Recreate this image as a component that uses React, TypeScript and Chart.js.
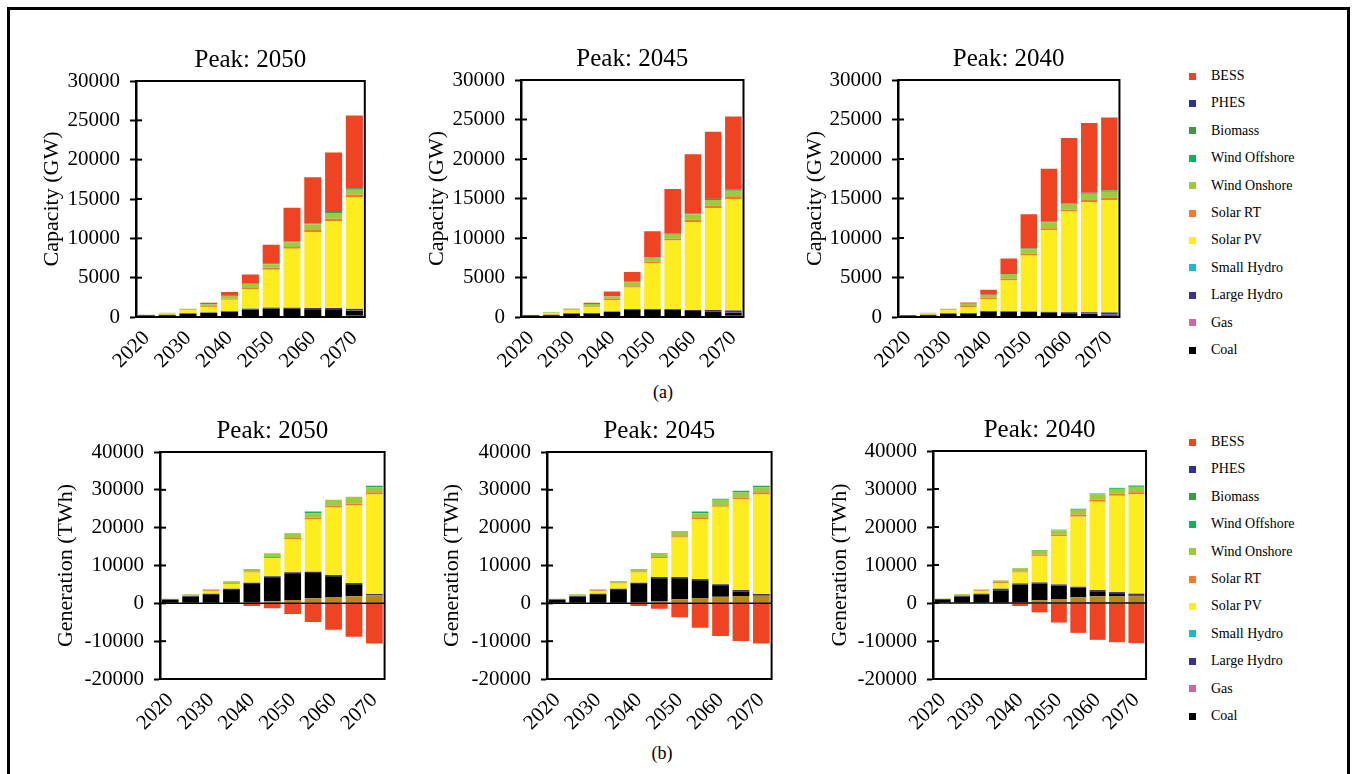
import React, { useEffect, useRef } from 'react';
import { Chart, registerables } from 'chart.js';

Chart.register(...registerables);

const FONT = "'Liberation Serif', 'Times New Roman', Times, serif";

// ---------- categories & tick labels ----------
const years = ['2020', '2025', '2030', '2035', '2040', '2045', '2050', '2055', '2060', '2065', '2070'];
const yearTickLabels = ['2020', '', '2030', '', '2040', '', '2050', '', '2060', '', '2070'];
const capTicks = [0, 5000, 10000, 15000, 20000, 25000, 30000];
const genTicks = [-20000, -10000, 0, 10000, 20000, 30000, 40000];

// stack order bottom -> top
const seriesNames = ['Other', 'Coal', 'Gas', 'Large Hydro', 'Small Hydro', 'Solar PV', 'Solar RT', 'Wind Onshore', 'Wind Offshore', 'Biomass', 'PHES', 'BESS'];
const seriesColors = ['#b5891a', '#000000', '#cc66aa', '#3d3091', '#17bcd0', '#fdec1e', '#f47b20', '#9dcb3c', '#10b35a', '#3a9a45', '#2e3192', '#ef4423'];

// legend (top -> bottom)
const legendNames = ['BESS', 'PHES', 'Biomass', 'Wind Offshore', 'Wind Onshore', 'Solar RT', 'Solar PV', 'Small Hydro', 'Large Hydro', 'Gas', 'Coal'];
const legendColors = ['#ef4423', '#2e3192', '#3a9a45', '#10b35a', '#9dcb3c', '#f47b20', '#fdec1e', '#17bcd0', '#3d3091', '#cc66aa', '#000000'];

// ---------- Capacity (GW), Peak 2050 ----------
const capA_Other = [0, 0, 0, 0, 0, 0, 0, 0, 100, 120, 150];
const capA_Coal = [200, 220, 420, 500, 650, 950, 1080, 1090, 900, 880, 650];
const capA_Gas = [0, 0, 0, 0, 0, 20, 30, 0, 30, 30, 30];
const capA_LargeHydro = [50, 60, 60, 60, 80, 80, 80, 100, 100, 100, 200];
const capA_SmallHydro = [0, 0, 0, 0, 0, 20, 20, 0, 20, 20, 20];
const capA_SolarPV = [20, 150, 380, 700, 1470, 2500, 4810, 7500, 9650, 11050, 14200];
const capA_SolarRT = [0, 20, 60, 100, 130, 130, 250, 210, 260, 300, 300];
const capA_WindOn = [30, 100, 140, 250, 330, 500, 450, 600, 720, 720, 640];
const capA_WindOff = [0, 0, 0, 0, 30, 50, 50, 100, 120, 130, 160];
const capA_Biomass = [0, 0, 0, 0, 0, 0, 10, 0, 0, 0, 0];
const capA_PHES = [0, 0, 0, 0, 0, 0, 0, 0, 0, 0, 50];
const capA_BESS = [0, 0, 0, 200, 480, 1140, 2420, 4300, 5850, 7550, 9200];

// ---------- Capacity (GW), Peak 2045 ----------
const capB_Other = [0, 0, 0, 0, 0, 0, 0, 50, 130, 140, 150];
const capB_Coal = [200, 230, 420, 440, 630, 910, 910, 860, 620, 560, 400];
const capB_Gas = [0, 0, 0, 0, 0, 20, 20, 20, 20, 20, 30];
const capB_LargeHydro = [50, 60, 60, 60, 80, 80, 80, 80, 120, 160, 250];
const capB_SmallHydro = [0, 0, 0, 0, 0, 0, 0, 10, 10, 20, 20];
const capB_SolarPV = [20, 180, 400, 720, 1430, 2720, 5790, 8670, 11140, 12900, 14090];
const capB_SolarRT = [0, 20, 60, 120, 200, 170, 200, 210, 260, 300, 330];
const capB_WindOn = [30, 100, 150, 300, 270, 540, 500, 600, 700, 700, 720];
const capB_WindOff = [0, 0, 0, 0, 30, 50, 60, 100, 120, 150, 170];
const capB_Biomass = [0, 0, 0, 0, 0, 0, 10, 20, 10, 0, 20];
const capB_PHES = [0, 0, 0, 0, 0, 0, 0, 0, 0, 30, 20];
const capB_BESS = [0, 0, 0, 160, 590, 1210, 3300, 5580, 7470, 8480, 9190];

// ---------- Capacity (GW), Peak 2040 ----------
const capC_Other = [0, 0, 0, 0, 0, 0, 0, 60, 120, 140, 150];
const capC_Coal = [180, 220, 420, 440, 690, 680, 640, 500, 350, 250, 100];
const capC_Gas = [0, 0, 0, 0, 10, 20, 20, 20, 20, 20, 20];
const capC_LargeHydro = [40, 60, 60, 60, 60, 60, 60, 60, 120, 180, 300];
const capC_SmallHydro = [0, 0, 0, 0, 0, 0, 10, 10, 10, 10, 20];
const capC_SolarPV = [10, 150, 380, 720, 1510, 3870, 7050, 10370, 12720, 13910, 14180];
const capC_SolarRT = [0, 20, 60, 170, 170, 210, 220, 210, 250, 300, 330];
const capC_WindOn = [20, 100, 130, 290, 350, 500, 570, 720, 760, 780, 760];
const capC_WindOff = [0, 0, 0, 0, 30, 60, 90, 110, 70, 120, 150];
const capC_Biomass = [0, 0, 0, 0, 0, 0, 10, 10, 10, 20, 20];
const capC_PHES = [0, 0, 0, 0, 0, 0, 0, 0, 0, 0, 0];
const capC_BESS = [0, 0, 0, 170, 630, 2000, 4330, 6690, 8240, 8840, 9210];

// ---------- Generation (TWh), Peak 2050 ----------
const genD_Other = [0, 0, 0, 0, 200, 530, 880, 1320, 1680, 1850, 2120];
const genD_Coal = [950, 1750, 2380, 3700, 5100, 6350, 7060, 6890, 5470, 3180, 50];
const genD_Gas = [0, 0, 0, 0, 0, 0, 0, 0, 0, 0, 0];
const genD_LargeHydro = [100, 250, 180, 180, 170, 270, 270, 170, 350, 350, 300];
const genD_SmallHydro = [0, 0, 0, 0, 0, 0, 0, 0, 0, 0, 0];
const genD_SolarPV = [50, 150, 710, 1240, 2650, 4770, 8820, 13770, 17830, 20480, 26300];
const genD_SolarRT = [0, 0, 170, 180, 270, 350, 270, 440, 530, 530, 620];
const genD_WindOn = [140, 230, 260, 530, 700, 970, 1250, 1240, 1500, 1760, 1240];
const genD_WindOff = [0, 0, 0, 0, 0, 0, 70, 440, 0, 0, 440];
const genD_Biomass = [0, 0, 0, 0, 0, 0, 0, 0, 0, 0, 0];
const genD_PHES = [0, 0, 0, 0, 0, 0, 0, 0, 0, 0, 0];
const genD_BESS = [0, 0, 0, -180, -700, -1320, -2820, -4940, -6970, -8830, -10590];

// ---------- Generation (TWh), Peak 2045 ----------
const genE_Other = [0, 0, 0, 0, 200, 620, 1060, 1410, 1770, 1940, 2030];
const genE_Coal = [950, 1750, 2380, 3700, 5100, 6000, 5560, 4680, 3000, 1150, 100];
const genE_Gas = [0, 0, 0, 0, 0, 0, 0, 0, 0, 0, 0];
const genE_LargeHydro = [100, 250, 180, 180, 170, 350, 350, 350, 260, 440, 340];
const genE_SmallHydro = [0, 0, 0, 0, 0, 0, 0, 0, 0, 0, 0];
const genE_SolarPV = [50, 150, 710, 1330, 2650, 5030, 10420, 15800, 20480, 24010, 26300];
const genE_SolarRT = [0, 0, 170, 200, 270, 270, 350, 530, 440, 440, 620];
const genE_WindOn = [140, 230, 260, 500, 700, 1060, 1410, 1060, 1410, 1320, 1240];
const genE_WindOff = [0, 0, 0, 0, 0, 0, 0, 440, 270, 440, 440];
const genE_Biomass = [0, 0, 0, 0, 0, 0, 0, 0, 0, 0, 0];
const genE_PHES = [0, 0, 0, 0, 0, 0, 0, 0, 0, 0, 0];
const genE_BESS = [0, 0, 0, -180, -700, -1410, -3710, -6440, -8650, -9970, -10590];

// ---------- Generation (TWh), Peak 2040 ----------
const genF_Other = [0, 0, 0, 0, 200, 700, 1050, 1480, 1750, 1830, 1830];
const genF_Coal = [950, 1700, 2270, 3320, 4600, 4370, 3490, 2540, 1310, 530, 100];
const genF_Gas = [0, 0, 0, 0, 0, 0, 0, 0, 0, 0, 0];
const genF_LargeHydro = [100, 250, 180, 440, 350, 340, 350, 260, 350, 520, 520];
const genF_SmallHydro = [0, 0, 0, 0, 0, 0, 0, 0, 0, 0, 0];
const genF_SolarPV = [50, 180, 700, 1480, 2880, 6990, 12660, 18430, 23230, 25330, 26110];
const genF_SolarRT = [0, 0, 170, 260, 270, 350, 440, 520, 520, 520, 610];
const genF_WindOn = [120, 230, 260, 440, 870, 960, 1140, 1310, 1400, 1310, 1400];
const genF_WindOff = [0, 0, 0, 0, 0, 180, 170, 260, 260, 270, 350];
const genF_Biomass = [0, 0, 0, 0, 0, 0, 0, 0, 0, 0, 0];
const genF_PHES = [0, 0, 0, 0, 0, 0, 0, 0, 0, 0, 0];
const genF_BESS = [0, 0, 0, -260, -790, -2450, -5150, -7860, -9690, -10310, -10570];

const capA = [capA_Other, capA_Coal, capA_Gas, capA_LargeHydro, capA_SmallHydro, capA_SolarPV, capA_SolarRT, capA_WindOn, capA_WindOff, capA_Biomass, capA_PHES, capA_BESS];
const capB = [capB_Other, capB_Coal, capB_Gas, capB_LargeHydro, capB_SmallHydro, capB_SolarPV, capB_SolarRT, capB_WindOn, capB_WindOff, capB_Biomass, capB_PHES, capB_BESS];
const capC = [capC_Other, capC_Coal, capC_Gas, capC_LargeHydro, capC_SmallHydro, capC_SolarPV, capC_SolarRT, capC_WindOn, capC_WindOff, capC_Biomass, capC_PHES, capC_BESS];
const genD = [genD_Other, genD_Coal, genD_Gas, genD_LargeHydro, genD_SmallHydro, genD_SolarPV, genD_SolarRT, genD_WindOn, genD_WindOff, genD_Biomass, genD_PHES, genD_BESS];
const genE = [genE_Other, genE_Coal, genE_Gas, genE_LargeHydro, genE_SmallHydro, genE_SolarPV, genE_SolarRT, genE_WindOn, genE_WindOff, genE_Biomass, genE_PHES, genE_BESS];
const genF = [genF_Other, genF_Coal, genF_Gas, genF_LargeHydro, genF_SmallHydro, genF_SolarPV, genF_SolarRT, genF_WindOn, genF_WindOff, genF_Biomass, genF_PHES, genF_BESS];

// ---------- layout ----------
const Y_W = 110;
const X_H = 64;
const PAD_R = 4;
const TITLE_SIZE = 25;
const TICK_SIZE = 21;
const AXIS_TITLE_SIZE = 22;

type Box = { L: number; R: number; T: number; B: number };

const framePlugin = {
  id: 'frame',
  afterDatasetsDraw(chart: any) {
    const { ctx, chartArea: a, scales } = chart;
    const y = scales.y;
    ctx.save();
    ctx.strokeStyle = '#000';
    ctx.lineWidth = 2;
    ctx.strokeRect(a.left, a.top, a.right - a.left, a.bottom - a.top);
    y.ticks.forEach((t: any) => {
      const py = y.getPixelForValue(t.value);
      ctx.beginPath();
      ctx.moveTo(a.left, py);
      ctx.lineTo(a.left + 6, py);
      ctx.stroke();
    });
    const z = y.getPixelForValue(0);
    ctx.lineWidth = 1.5;
    ctx.beginPath();
    ctx.moveTo(a.left, z);
    ctx.lineTo(a.right, z);
    ctx.stroke();
    ctx.restore();
  },
};

function BarPanel(props: {
  box: Box;
  title: string;
  yTitle: string;
  yTitlePad: number;
  titlePadBottom: number;
  data: number[][];
  ticks: number[];
}) {
  const ref = useRef<HTMLCanvasElement>(null);
  const { box, title, yTitle, yTitlePad, titlePadBottom, data, ticks } = props;
  const titleH = TITLE_SIZE + titlePadBottom;
  const width = box.R - box.L + Y_W + PAD_R;
  const height = box.B - box.T + titleH + X_H;

  useEffect(() => {
    const chart = new Chart(ref.current as HTMLCanvasElement, {
      type: 'bar',
      data: {
        labels: years,
        datasets: seriesNames.map((name, i) => ({
          label: name,
          data: data[i],
          backgroundColor: seriesColors[i],
          borderWidth: 0,
          barPercentage: 0.82,
          categoryPercentage: 1,
        })),
      },
      options: {
        responsive: false,
        animation: false,
        events: [],
        layout: { padding: { left: 0, right: PAD_R, top: 0, bottom: 0 } },
        plugins: {
          legend: { display: false },
          tooltip: { enabled: false },
          title: {
            display: true,
            text: title,
            fullSize: false,
            color: '#000',
            font: { family: FONT, size: TITLE_SIZE, weight: 'normal', lineHeight: 1 },
            padding: { top: 0, bottom: titlePadBottom },
          },
        },
        scales: {
          x: {
            stacked: true,
            afterFit: (s: any) => { s.height = X_H; },
            grid: { display: false, drawTicks: false },
            border: { display: false },
            ticks: {
              autoSkip: false,
              minRotation: 45,
              maxRotation: 45,
              padding: 9,
              color: '#000',
              font: { family: FONT, size: TICK_SIZE },
              callback: (_v: any, idx: number) => yearTickLabels[idx],
            },
          },
          y: {
            stacked: true,
            min: ticks[0],
            max: ticks[ticks.length - 1],
            afterFit: (s: any) => { s.width = Y_W; },
            afterBuildTicks: (s: any) => { s.ticks = ticks.map((v) => ({ value: v })); },
            grid: {
              display: true,
              drawOnChartArea: false,
              drawTicks: true,
              tickLength: 6,
              tickColor: '#000',
              tickWidth: 2,
            },
            border: { display: true, color: '#000', width: 2.5 },
            ticks: {
              padding: 10,
              color: '#000',
              font: { family: FONT, size: TICK_SIZE },
              callback: (v: any) => String(v),
            },
            title: {
              display: true,
              text: yTitle,
              color: '#000',
              font: { family: FONT, size: AXIS_TITLE_SIZE },
              padding: { top: yTitlePad, bottom: 0 },
            },
          },
        },
      } as any,
      plugins: [framePlugin],
    });
    return () => chart.destroy();
  }, []);

  return (
    <canvas
      ref={ref}
      width={width}
      height={height}
      style={{ position: 'absolute', left: box.L - Y_W, top: box.T - titleH, width, height, display: 'block' }}
    />
  );
}

function Legend(props: { top: number }) {
  return (
    <>
      {legendNames.map((n, i) => (
        <div key={n} style={{ position: 'absolute', left: 1189, top: props.top + i * 27.4 - 10, height: 20, display: 'flex', alignItems: 'center' }}>
          <div style={{ width: 7, height: 7, background: legendColors[i] }} />
          <span style={{ marginLeft: 15, fontFamily: FONT, fontSize: 14, color: '#000', whiteSpace: 'nowrap' }}>{n}</span>
        </div>
      ))}
    </>
  );
}

export default function App() {
  return (
    <div style={{ position: 'relative', width: 1352, height: 774, overflow: 'hidden', background: '#fff' }}>
      <style>{'html,body{margin:0;padding:0;overflow:hidden;background:#fff}'}</style>
      <div style={{ position: 'absolute', left: 7, top: 7, width: 1343, height: 800, border: '3px solid #000', boxSizing: 'border-box' }} />
      <BarPanel box={{ L: 136, R: 378, T: 81, B: 317 }} title="Peak: 2050" yTitle="Capacity (GW)" yTitlePad={13} titlePadBottom={8} data={capA} ticks={capTicks} />
      <BarPanel box={{ L: 521, R: 757, T: 80, B: 317 }} title="Peak: 2045" yTitle="Capacity (GW)" yTitlePad={13} titlePadBottom={8} data={capB} ticks={capTicks} />
      <BarPanel box={{ L: 898, R: 1133, T: 80, B: 317 }} title="Peak: 2040" yTitle="Capacity (GW)" yTitlePad={14} titlePadBottom={8} data={capC} ticks={capTicks} />
      <BarPanel box={{ L: 160, R: 398, T: 452, B: 679 }} title="Peak: 2050" yTitle="Generation (TWh)" yTitlePad={3} titlePadBottom={8} data={genD} ticks={genTicks} />
      <BarPanel box={{ L: 547, R: 785, T: 452, B: 679 }} title="Peak: 2045" yTitle="Generation (TWh)" yTitlePad={2} titlePadBottom={8} data={genE} ticks={genTicks} />
      <BarPanel box={{ L: 933, R: 1160, T: 451, B: 679 }} title="Peak: 2040" yTitle="Generation (TWh)" yTitlePad={4} titlePadBottom={8} data={genF} ticks={genTicks} />
      <Legend top={76} />
      <Legend top={442} />
      <div style={{ position: 'absolute', left: 613, width: 100, top: 382, textAlign: 'center', fontFamily: FONT, fontSize: 18, color: '#000' }}>(a)</div>
      <div style={{ position: 'absolute', left: 612, width: 100, top: 743, textAlign: 'center', fontFamily: FONT, fontSize: 18, color: '#000' }}>(b)</div>
    </div>
  );
}
